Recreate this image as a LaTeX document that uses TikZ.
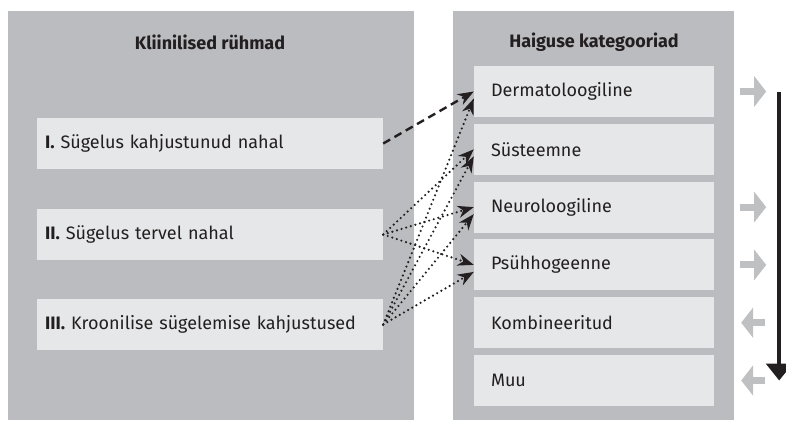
\documentclass[tikz,border=0pt]{standalone}
\usepackage{fontspec}
\setmainfont{Fira Sans}
\usetikzlibrary{arrows.meta}
\definecolor{panelgray}{HTML}{BBBCBF}
\definecolor{boxgray}{HTML}{E6E7E8}
\definecolor{arrowgray}{HTML}{BFC0C2}
\definecolor{ink}{HTML}{231F20}

\begin{document}
\begin{tikzpicture}
  [x=1pt,y=-1pt,
   every node/.style={text=ink,font=\fontsize{18}{21}\selectfont},
   group/.style={fill=boxgray,minimum width=346pt,minimum height=51pt,text width=330pt,align=left,inner xsep=8pt,inner ysep=4pt},
   cat/.style={fill=boxgray,minimum width=240pt,minimum height=51pt,text width=206pt,align=left,inner xsep=17pt,inner ysep=4pt},
   head/.style={font=\bfseries\fontsize{18}{21}\selectfont},
   link/.style={draw=ink,line width=2.4pt,line cap=round,dash pattern=on 0pt off 4.8pt,-{Stealth[length=16pt,width=12pt,inset=5pt]}},
   side/.style={draw=arrowgray,line width=7pt,-{Triangle[length=12pt,width=30pt]}}]
  \useasboundingbox (0,0) rectangle (786,421);

  % panels
  \fill[panelgray] (8,11) rectangle (414,420);
  \fill[panelgray] (453,11) rectangle (734,420);

  \node[head] (t1) at (210,42) {Kliinilised rühmad};
  \node[head] (t2) at (594,42) {Haiguse kategooriad};

  \node[group] (g1) at (210,143.5) {\textbf{I.} Sügelus kahjustunud nahal};
  \node[group] (g2) at (210,234.5) {\textbf{II.} Sügelus tervel nahal};
  \node[group] (g3) at (210,324.5) {\textbf{III.} Kroonilise sügelemise kahjustused};

  \node[cat] (c1) at (594,91.5)  {Dermatoloogiline};
  \node[cat] (c2) at (594,149.3) {Süsteemne};
  \node[cat] (c3) at (594,207.1) {Neuroloogiline};
  \node[cat] (c4) at (594,264.9) {Psühhogeenne};
  \node[cat] (c5) at (594,322.7) {Kombineeritud};
  \node[cat] (c6) at (594,380.5) {Muu};

  \draw[link,dash pattern=on 8pt off 5pt,line cap=butt] (g1.east) -- (c1.west);

  \foreach \to in {c2,c3,c4}
     \draw[link] (g2.east) -- (\to.west);
  \foreach \to in {c1,c2,c3,c4}
     \draw[link] (g3.east) -- ([yshift=-7pt]\to.west);

  % side markers
  \foreach \c in {c1,c3,c4}
     \draw[side] ([xshift=26pt]\c.east) -- ([xshift=52pt]\c.east);
  \foreach \c in {c5,c6}
     \draw[side] ([xshift=51pt]\c.east) -- ([xshift=27pt]\c.east);

  \coordinate (top) at ([xshift=65pt]c1.east);
  \coordinate (bottom) at ([xshift=65pt]c6.east);
  \draw[ink,line width=4pt,-{Triangle[length=17pt,width=26pt]}] (top) -- (bottom);
\end{tikzpicture}
\end{document}
